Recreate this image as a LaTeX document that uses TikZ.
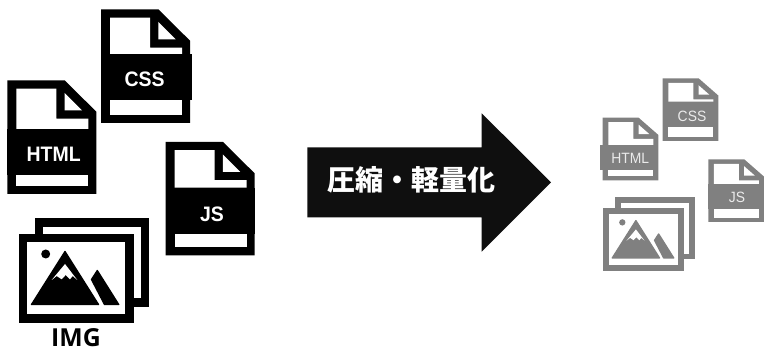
\documentclass[tikz,border=0pt]{standalone}
\usepackage{fontspec}
\setmainfont{Liberation Sans}
\newfontfamily\tagfont[FakeStretch=0.93]{Liberation Sans}
\newfontfamily\imgfont{Open Sans}
\newfontfamily\cjk{Noto Sans CJK JP}
\colorlet{inkgray}{black!50}
\colorlet{arrowink}{black!94}
\tikzset{
	bigtext/.style={text=white,font=\fontsize{15.7pt}{17pt}\selectfont\tagfont\bfseries,inner sep=0},
	smalltext/.style={text=white!92!black,font=\fontsize{11.2pt}{13pt}\selectfont\tagfont,inner sep=0}
}
% sheet of paper: shift, xscale, yscale, colour, band left, band top, band right
\newcommand{\fileicon}[7]{
	\begin{scope}[shift={#1},xscale=#2,yscale=#3,color=#4]
		\fill (0,0) -- (57.5,0) -- (89,31.2) -- (89,113.5) -- (0,113.5) -- cycle;
		\fill[white] (9,8.2) -- (49,8.2) -- (49,38.2) -- (81,38.2) -- (81,#6) -- (9,#6) -- cycle;
		\fill[white] (57.3,12.5) -- (74.7,29.8) -- (57.3,29.8) -- cycle;
		\fill (#5,#6) rectangle (#7,#6+46);
		\fill[white] (9,#6+46) rectangle (81,105.5);
	\end{scope}
}
% stacked photos: shift, scale, colour
\newcommand{\imgicon}[3]{
	\begin{scope}[shift={#1},scale=#2,color=#3]
		\fill (16,-15.7) rectangle (130.6,72.7);
		\fill[white] (24.6,-7.3) rectangle (122,64.3);
		\fill (0,0) rectangle (115,88.7);
		\fill[white] (8.6,8.3) rectangle (106.6,80.3);
		\fill (27,20) circle (4.5);
		\filldraw[line width=1pt,line join=round] (46.3,17.5) -- (12.8,70.5) -- (79.8,70.5) -- cycle;
		\fill[white] (46.3,30) -- (33,46) -- (38,42) -- (43,45.3) -- (47,41) -- (51.3,45.3) -- (54,42) -- (58.6,46) -- cycle;
		\filldraw[line width=1pt,line join=round] (78.6,36.5) -- (100,70.5) -- (85.8,70.5) -- (72.8,45.5) -- cycle;
	\end{scope}
}

\begin{document}
\begin{tikzpicture}[x=0.75pt,y=-0.75pt]
	\useasboundingbox (0,0) rectangle (764,348);
	% source files
	\fileicon{(101,9.5)}{1}{1}{black}{0}{44.5}{91}
	\fileicon{(7.3,80.5)}{1}{1}{black}{0}{48.7}{89}
	\fileicon{(165.5,142)}{1}{1}{black}{0}{45.7}{89}
	\imgicon{(18.7,234)}{1}{black}
	\node[bigtext] (css) at (144.7,79) {CSS};
	\node[bigtext] (html) at (53.7,154) {HTML};
	\node[bigtext] (js) at (212,214) {JS};
	\node[inner sep=0,font=\fontsize{18.6pt}{20pt}\selectfont\imgfont\bfseries] (img) at (76,338) {IMG};
	% arrow
	\fill[arrowink] (307.3,147.3) -- (481.7,147.3) -- (481.7,113.3) -- (551,182.3) -- (481.7,251.7) -- (481.7,217.3) -- (307.3,217.3) -- cycle;
	\node[text=white,inner sep=0,font=\fontsize{21pt}{24pt}\selectfont\cjk\bfseries] (label) at (411,180) {圧縮・軽量化};
	% compressed files
	\fileicon{(662.7,78.3)}{0.625}{0.552}{inkgray}{0}{42.4}{89}
	\fileicon{(602.7,117.7)}{0.625}{0.552}{inkgray}{-4.5}{49.5}{89}
	\fileicon{(708.3,159.3)}{0.625}{0.552}{inkgray}{0}{44.7}{89}
	\imgicon{(603.3,208.3)}{0.704}{inkgray}
	\node[smalltext] (csssmall) at (692,116.7) {CSS};
	\node[smalltext] (htmlsmall) at (630.3,158.3) {HTML};
	\node[smalltext] (jssmall) at (737,197.3) {JS};
\end{tikzpicture}
\end{document}
